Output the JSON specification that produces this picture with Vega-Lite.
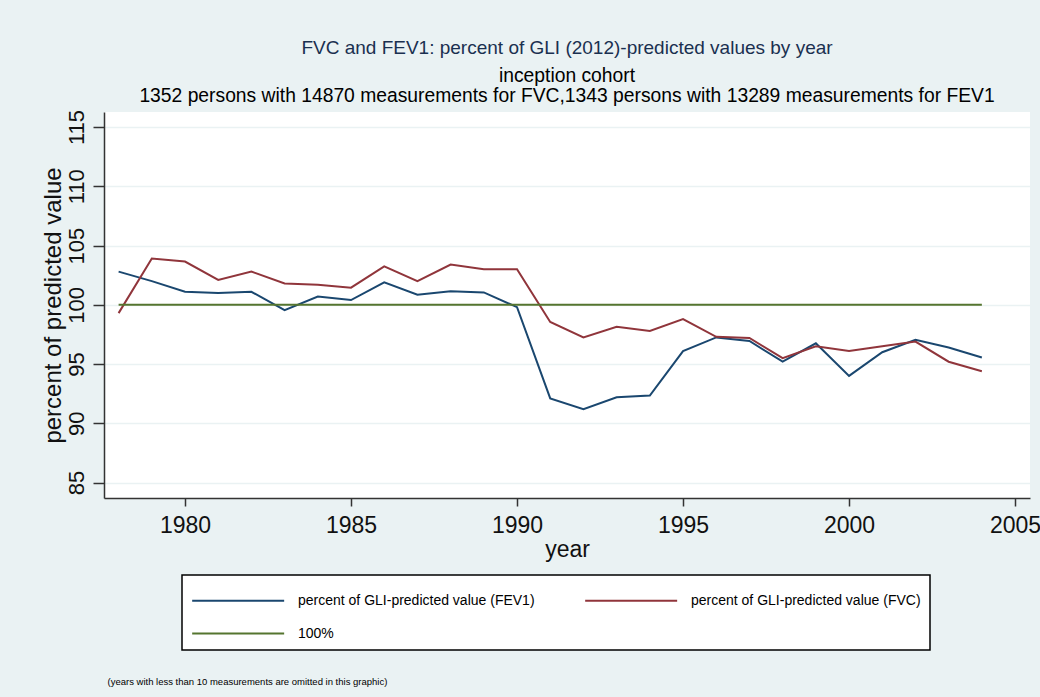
{
  "$schema": "https://vega.github.io/schema/vega-lite/v6.json",
  "width": 926,
  "height": 386,
  "autosize": {"type": "none"},
  "padding": {"left": 104, "top": 112, "right": 10, "bottom": 199},
  "background": "#EAF2F3",
  "view": {"fill": "white", "stroke": null},
  "title": {
    "text": "FVC and FEV1: percent of GLI (2012)-predicted values by year",
    "subtitle": ["inception cohort", "1352 persons with 14870 measurements for FVC,1343 persons with 13289 measurements for FEV1"],
    "anchor": "middle",
    "font": "Liberation Sans",
    "fontSize": 19,
    "fontWeight": "normal",
    "color": "#1a3050",
    "subtitleFont": "Liberation Sans",
    "subtitleFontSize": 19.3,
    "subtitleColor": "#000000",
    "subtitleLineHeight": 20,
    "subtitlePadding": 9,
    "offset": 3
  },
  "config": {
    "font": "Liberation Sans",
    "axis": {
      "domainColor": "#333333",
      "domainWidth": 1.5,
      "tickColor": "#333333",
      "tickWidth": 1.5,
      "labelColor": "#111111",
      "titleColor": "#111111",
      "titleFontWeight": "normal",
      "labelFont": "Liberation Sans",
      "titleFont": "Liberation Sans"
    },
    "legend": {
      "orient": "none",
      "legendX": 78,
      "legendY": 463,
      "columns": 2,
      "direction": "horizontal",
      "symbolType": "M-1,0H5",
      "symbolSize": 940,
      "symbolStrokeWidth": 2,
      "labelFont": "Liberation Sans",
      "labelFontSize": 14,
      "labelColor": "#000000",
      "labelOffset": 74,
      "labelLimit": 400,
      "rowPadding": 9,
      "columnPadding": 46,
      "padding": 9,
      "strokeColor": "#000000",
      "strokeWidth": 1.5,
      "fillColor": "#ffffff",
      "cornerRadius": 0
    }
  },
  "datasets": {
    "series": [
      {"year": 1978, "series": "percent of GLI-predicted value (FEV1)", "value": 102.8},
      {"year": 1979, "series": "percent of GLI-predicted value (FEV1)", "value": 102.0},
      {"year": 1980, "series": "percent of GLI-predicted value (FEV1)", "value": 101.1},
      {"year": 1981, "series": "percent of GLI-predicted value (FEV1)", "value": 101.0},
      {"year": 1982, "series": "percent of GLI-predicted value (FEV1)", "value": 101.1},
      {"year": 1983, "series": "percent of GLI-predicted value (FEV1)", "value": 99.55},
      {"year": 1984, "series": "percent of GLI-predicted value (FEV1)", "value": 100.7},
      {"year": 1985, "series": "percent of GLI-predicted value (FEV1)", "value": 100.4},
      {"year": 1986, "series": "percent of GLI-predicted value (FEV1)", "value": 101.9},
      {"year": 1987, "series": "percent of GLI-predicted value (FEV1)", "value": 100.85},
      {"year": 1988, "series": "percent of GLI-predicted value (FEV1)", "value": 101.15},
      {"year": 1989, "series": "percent of GLI-predicted value (FEV1)", "value": 101.05},
      {"year": 1990, "series": "percent of GLI-predicted value (FEV1)", "value": 99.8},
      {"year": 1991, "series": "percent of GLI-predicted value (FEV1)", "value": 92.1},
      {"year": 1992, "series": "percent of GLI-predicted value (FEV1)", "value": 91.2},
      {"year": 1993, "series": "percent of GLI-predicted value (FEV1)", "value": 92.2},
      {"year": 1994, "series": "percent of GLI-predicted value (FEV1)", "value": 92.35},
      {"year": 1995, "series": "percent of GLI-predicted value (FEV1)", "value": 96.1},
      {"year": 1996, "series": "percent of GLI-predicted value (FEV1)", "value": 97.25},
      {"year": 1997, "series": "percent of GLI-predicted value (FEV1)", "value": 96.95},
      {"year": 1998, "series": "percent of GLI-predicted value (FEV1)", "value": 95.2},
      {"year": 1999, "series": "percent of GLI-predicted value (FEV1)", "value": 96.75},
      {"year": 2000, "series": "percent of GLI-predicted value (FEV1)", "value": 94.0},
      {"year": 2001, "series": "percent of GLI-predicted value (FEV1)", "value": 96.0},
      {"year": 2002, "series": "percent of GLI-predicted value (FEV1)", "value": 97.05},
      {"year": 2003, "series": "percent of GLI-predicted value (FEV1)", "value": 96.4},
      {"year": 2004, "series": "percent of GLI-predicted value (FEV1)", "value": 95.55},
      {"year": 1978, "series": "percent of GLI-predicted value (FVC)", "value": 99.3},
      {"year": 1979, "series": "percent of GLI-predicted value (FVC)", "value": 103.9},
      {"year": 1980, "series": "percent of GLI-predicted value (FVC)", "value": 103.65},
      {"year": 1981, "series": "percent of GLI-predicted value (FVC)", "value": 102.1},
      {"year": 1982, "series": "percent of GLI-predicted value (FVC)", "value": 102.8},
      {"year": 1983, "series": "percent of GLI-predicted value (FVC)", "value": 101.8},
      {"year": 1984, "series": "percent of GLI-predicted value (FVC)", "value": 101.7},
      {"year": 1985, "series": "percent of GLI-predicted value (FVC)", "value": 101.45},
      {"year": 1986, "series": "percent of GLI-predicted value (FVC)", "value": 103.25},
      {"year": 1987, "series": "percent of GLI-predicted value (FVC)", "value": 102.0},
      {"year": 1988, "series": "percent of GLI-predicted value (FVC)", "value": 103.4},
      {"year": 1989, "series": "percent of GLI-predicted value (FVC)", "value": 103.0},
      {"year": 1990, "series": "percent of GLI-predicted value (FVC)", "value": 103.0},
      {"year": 1991, "series": "percent of GLI-predicted value (FVC)", "value": 98.55},
      {"year": 1992, "series": "percent of GLI-predicted value (FVC)", "value": 97.25},
      {"year": 1993, "series": "percent of GLI-predicted value (FVC)", "value": 98.15},
      {"year": 1994, "series": "percent of GLI-predicted value (FVC)", "value": 97.8},
      {"year": 1995, "series": "percent of GLI-predicted value (FVC)", "value": 98.8},
      {"year": 1996, "series": "percent of GLI-predicted value (FVC)", "value": 97.3},
      {"year": 1997, "series": "percent of GLI-predicted value (FVC)", "value": 97.2},
      {"year": 1998, "series": "percent of GLI-predicted value (FVC)", "value": 95.5},
      {"year": 1999, "series": "percent of GLI-predicted value (FVC)", "value": 96.5},
      {"year": 2000, "series": "percent of GLI-predicted value (FVC)", "value": 96.1},
      {"year": 2001, "series": "percent of GLI-predicted value (FVC)", "value": 96.5},
      {"year": 2002, "series": "percent of GLI-predicted value (FVC)", "value": 96.9},
      {"year": 2003, "series": "percent of GLI-predicted value (FVC)", "value": 95.2},
      {"year": 2004, "series": "percent of GLI-predicted value (FVC)", "value": 94.4}
    ],
    "ref": [
      {"year": 1978, "series": "100%", "value": 100},
      {"year": 2004, "series": "100%", "value": 100}
    ]
  },
  "layer": [
    {
      "data": {"name": "series"},
      "mark": {"type": "line", "strokeWidth": 2},
      "encoding": {
        "x": {
          "field": "year",
          "type": "quantitative",
          "scale": {"domain": [1977.56, 2005.45], "nice": false, "zero": false},
          "axis": {
            "orient": "bottom",
            "values": [1980, 1985, 1990, 1995, 2000, 2005],
            "format": "d",
            "tickSize": 8,
            "labelFontSize": 23,
            "labelPadding": 8,
            "labelFlush": false,
            "labelOverlap": false,
            "grid": false,
            "title": "year",
            "titleFontSize": 23,
            "titleX": 463,
            "titleY": 58,
            "titleAlign": "center",
            "titleBaseline": "alphabetic"
          }
        },
        "y": {
          "field": "value",
          "type": "quantitative",
          "scale": {"domain": [83.7, 116.27], "nice": false, "zero": false},
          "axis": {
            "values": [85, 90, 95, 100, 105, 110, 115],
            "tickSize": 11,
            "labelFontSize": 22,
            "labelAngle": 270,
            "labelAlign": "center",
            "labelBaseline": "alphabetic",
            "labelPadding": 10,
            "grid": true,
            "gridColor": "#EAF2F3",
            "gridWidth": 1.5,
            "title": "percent of predicted value",
            "titleFontSize": 24,
            "titleAngle": 270,
            "titleX": -44,
            "titleY": 193,
            "titleAlign": "center",
            "titleBaseline": "alphabetic"
          }
        },
        "color": {
          "field": "series",
          "type": "nominal",
          "scale": {
            "domain": ["percent of GLI-predicted value (FEV1)", "percent of GLI-predicted value (FVC)", "100%"],
            "range": ["#1a476f", "#90353b", "#55752f"]
          },
          "legend": {"title": null}
        }
      }
    },
    {
      "data": {"name": "ref"},
      "mark": {"type": "line", "strokeWidth": 2},
      "encoding": {
        "x": {
          "field": "year",
          "type": "quantitative",
          "scale": {"domain": [1977.56, 2005.45], "nice": false, "zero": false},
          "axis": {
            "orient": "bottom",
            "labels": false,
            "ticks": false,
            "domain": false,
            "grid": false,
            "title": "(years with less than 10 measurements are omitted in this graphic)",
            "titleFontSize": 9.5,
            "titleColor": "#000000",
            "titleX": 3,
            "titleY": 186,
            "titleAlign": "left",
            "titleBaseline": "alphabetic"
          }
        },
        "y": {"field": "value", "type": "quantitative"},
        "color": {"field": "series", "type": "nominal"}
      }
    }
  ],
  "resolve": {"scale": {"x": "independent"}}
}
